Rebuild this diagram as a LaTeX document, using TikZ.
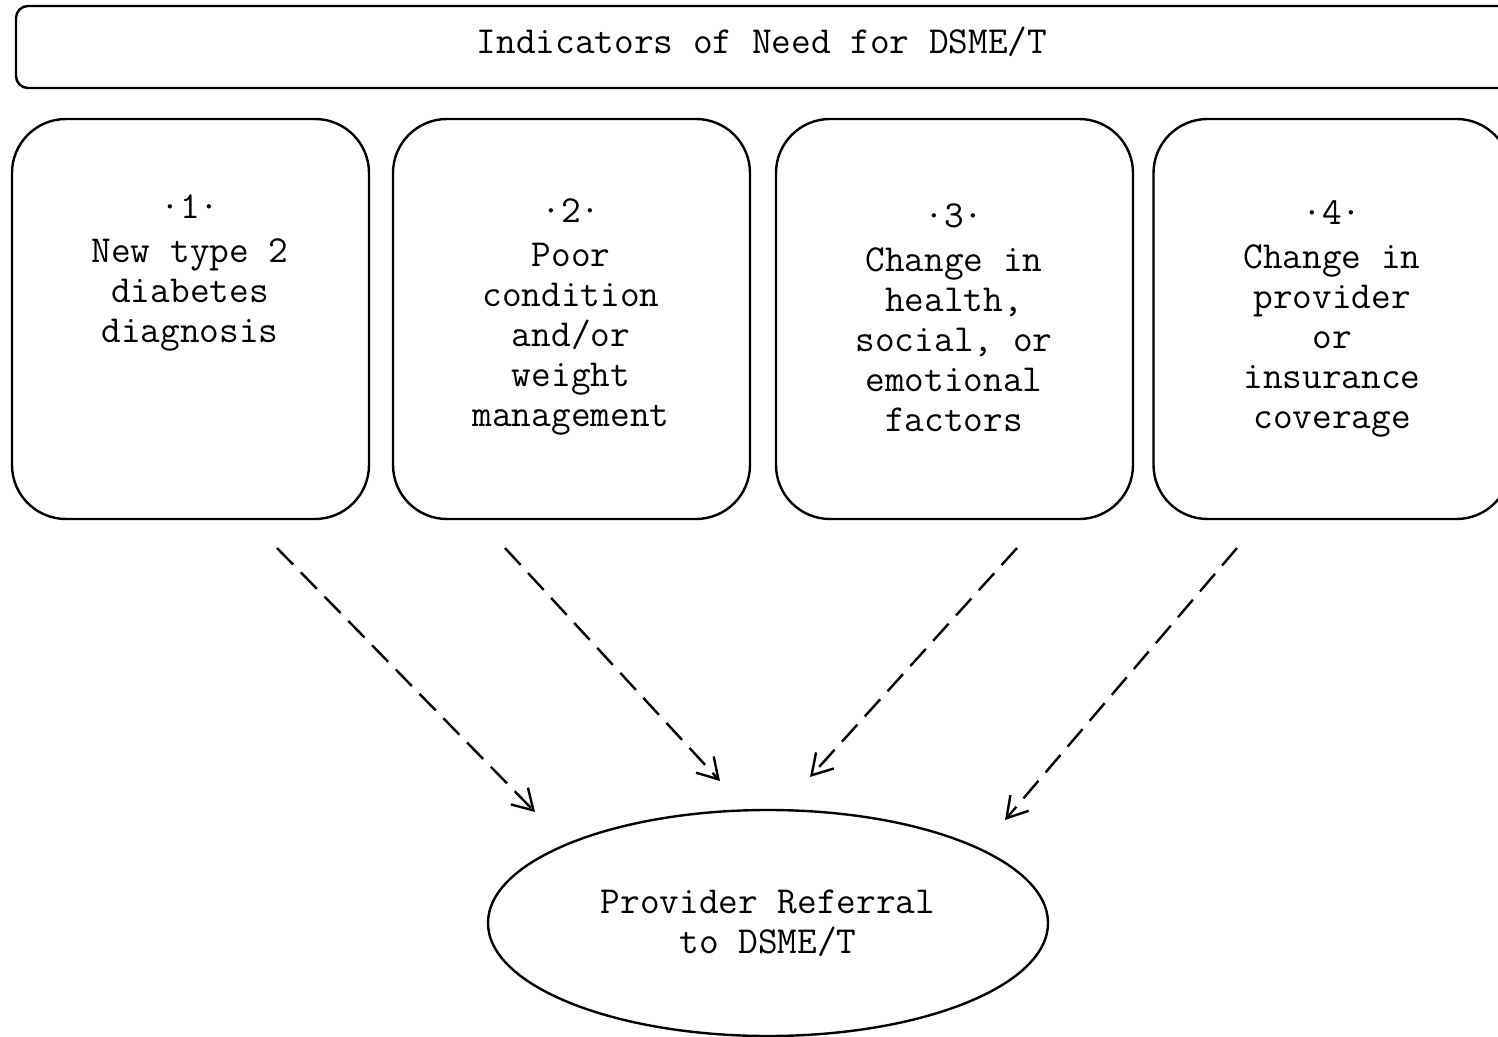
\documentclass[tikz,border=0pt]{standalone}
\usepackage{fontspec}
\usetikzlibrary{arrows.meta,shapes.geometric}
\begin{document}
\begin{tikzpicture}[x=0.5pt,y=-0.5pt]
\tikzset{
  mono/.style={font=\ttfamily\fontsize{19.1}{20}\selectfont, align=center, inner sep=0pt},
  card/.style={draw, line width=1.2pt, rounded corners=27pt,
    minimum width=178.5pt, minimum height=200pt, inner sep=0pt},
  banner/.style={draw, line width=1.2pt, rounded corners=6pt,
    minimum width=747pt, minimum height=41pt, inner sep=0pt},
  goal/.style={draw, ellipse, line width=1.2pt, minimum width=280pt,
    minimum height=113pt, inner sep=0pt},
  hint/.style={dash pattern=on 11.5pt off 5.5pt, line width=1.2pt,
    -{Straight Barb[length=10pt,width=12pt,line width=1.2pt]}}
}
\useasboundingbox (0,0) rectangle (1498,1037);
\clip (0,0) rectangle (1498,1037);

% header
\node[banner] (head) at (763,47) {};
\node[mono] (headtext) at (762,42) {Indicators of Need for DSME/T};

% four indicator cards
\node[card] (c1) at (190.5,319) {};
\node[card] (c2) at (571.5,319) {};
\node[card] (c3) at (954.5,319) {};
\node[card] (c4) at (1332,319) {};

\node[mono] (t1) at (190,273) {·1·\\[2pt]New type 2\\diabetes\\diagnosis};
\node[mono] (t2) at (571,317) {·2·\\[2pt]Poor\\condition\\and/or\\weight\\management};
\node[mono] (t3) at (954,318) {·3·\\[2pt]Change in\\health,\\social, or\\emotional\\factors};
\node[mono] (t4) at (1332,319) {·4·\\[2pt]Change in\\provider\\or\\insurance\\coverage};

% referral
\node[goal] (ref) at (768,923) {};
\node[mono] (reftext) at (768,923) {Provider Referral\\to DSME/T};

% arrow ends
\coordinate (s1) at (277,548);  \coordinate (e1) at (535,812);
\coordinate (s2) at (505,548);  \coordinate (e2) at (720,781);
\coordinate (s3) at (1017,548); \coordinate (e3) at (810,777);
\coordinate (s4) at (1237,548); \coordinate (e4) at (1005,820);

\draw[hint] (s1) -- (e1);
\draw[hint] (s2) -- (e2);
\draw[hint] (s3) -- (e3);
\draw[hint] (s4) -- (e4);
\end{tikzpicture}
\end{document}
